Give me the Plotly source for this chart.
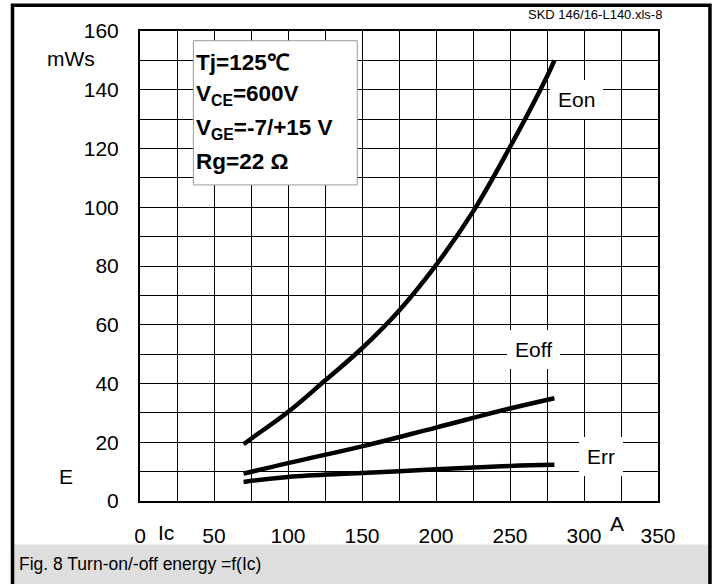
import plotly.graph_objects as go

# Data (Ic in A, E in mWs)
ic_on = [70, 75, 100, 125, 150, 175, 200, 225, 250, 275, 280]
e_on = [19.3, 21.2, 30.3, 41.0, 52.0, 64.8, 80.3, 98.5, 120.5, 144.5, 150.0]

ic_off = [70, 100, 150, 200, 250, 280]
e_off = [9.3, 12.9, 18.6, 25.0, 31.5, 35.0]

ic_rr = [70, 100, 150, 200, 250, 280]
e_rr = [6.5, 8.2, 9.5, 10.8, 11.9, 12.3]

x_ticks = [0, 50, 100, 150, 200, 250, 300, 350]
y_ticks = [0, 20, 40, 60, 80, 100, 120, 140, 160]

FONT = "Liberation Sans, Arial, Helvetica, sans-serif"

W, H = 715, 584
# plot area in page pixels: x 139.6..658, y 31.3..500.6
L = 139.6
T = 31.3
PW = 658 - 139.6
PH = 500.6 - 31.3
R = W - L - PW
B = H - T - PH


def px(xp):
    return (xp - L) / PW


def py(yp):
    return (T + PH - yp) / PH


fig = go.Figure()
line_style = dict(color="black", width=4.5, shape="spline", smoothing=1.1)
for xs, ys, nm in [(ic_on, e_on, "Eon"), (ic_off, e_off, "Eoff"), (ic_rr, e_rr, "Err")]:
    fig.add_trace(go.Scatter(x=xs, y=ys, mode="lines", name=nm, line=line_style,
                             showlegend=False, hoverinfo="skip"))

shapes = [
    # condition box
    dict(type="rect", xref="paper", yref="paper", x0=px(193), x1=px(357), y0=py(185), y1=py(41),
         fillcolor="white", line=dict(color="#9a9a9a", width=1), layer="above"),
    # caption band
    dict(type="rect", xref="paper", yref="paper", x0=px(13), x1=px(709), y0=py(600), y1=py(544),
         fillcolor="#dedede", line=dict(width=0), layer="above"),
    # outer border
    dict(type="rect", xref="paper", yref="paper", x0=px(12), x1=px(710), y0=py(620), y1=py(5.5),
         fillcolor="rgba(0,0,0,0)", line=dict(color="black", width=3.5), layer="above"),
]

ann = []
# condition box text
box_lines = ["Tj=125\u2103", "V<sub>CE</sub>=600V", "V<sub>GE</sub>=-7/+15 V", "Rg=22 \u03a9"]
box_y = [63, 95, 129, 162]
for t, yy in zip(box_lines, box_y):
    ann.append(dict(xref="paper", yref="paper", x=px(194), y=py(yy), text="<b>" + t + "</b>",
                    showarrow=False, xanchor="left", yanchor="middle",
                    font=dict(family=FONT, size=22.5, color="black")))

# curve labels with white background
for t, xx, yy in [("Eon", 576, 100), ("Eoff", 533, 349), ("Err", 601, 456)]:
    ann.append(dict(xref="paper", yref="paper", x=px(xx), y=py(yy), text=t, showarrow=False,
                    xanchor="center", yanchor="middle", bgcolor="white", borderpad=8,
                    borderwidth=0, font=dict(family=FONT, size=21, color="black")))

# axis unit labels
for t, xx, yy in [("mWs", 71, 59), ("E", 66, 476), ("Ic", 166, 532), ("A", 617, 523)]:
    ann.append(dict(xref="paper", yref="paper", x=px(xx), y=py(yy), text=t, showarrow=False,
                    xanchor="center", yanchor="middle",
                    font=dict(family=FONT, size=21, color="black")))

ann.append(dict(xref="paper", yref="paper", x=px(664), y=py(14.5), text="SKD 146/16-L140.xls-8",
                showarrow=False, xanchor="right", yanchor="middle",
                font=dict(family=FONT, size=13, color="black")))
ann.append(dict(xref="paper", yref="paper", x=px(17), y=py(564), text="Fig. 8 Turn-on/-off energy =f(Ic)",
                showarrow=False, xanchor="left", yanchor="middle",
                font=dict(family=FONT, size=17.5, color="black")))

fig.update_layout(
    width=W, height=H,
    margin=dict(l=L, r=R, t=T, b=B, pad=0),
    paper_bgcolor="white", plot_bgcolor="white",
    font=dict(family=FONT, size=21, color="black"),
    shapes=shapes, annotations=ann,
)
fig.update_xaxes(range=[0, 350], tickvals=x_ticks, ticks="", ticklabelstandoff=15,
                 showgrid=True, gridcolor="black", gridwidth=1.4,
                 minor=dict(dtick=25, showgrid=True, gridcolor="black", gridwidth=1.4),
                 showline=True, linecolor="black", linewidth=2, mirror=True, zeroline=False,
                 tickfont=dict(family=FONT, size=21, color="black"), fixedrange=True)
fig.update_yaxes(range=[0, 160], tickvals=y_ticks, ticks="", ticklabelstandoff=15,
                 showgrid=True, gridcolor="black", gridwidth=1.4,
                 minor=dict(dtick=10, showgrid=True, gridcolor="black", gridwidth=1.4),
                 showline=True, linecolor="black", linewidth=2, mirror=True, zeroline=False,
                 tickfont=dict(family=FONT, size=21, color="black"), fixedrange=True)

fig.write_html("out.html", config={"displayModeBar": False},
               post_script="document.body.style.margin='0';document.body.style.overflow='hidden';")
